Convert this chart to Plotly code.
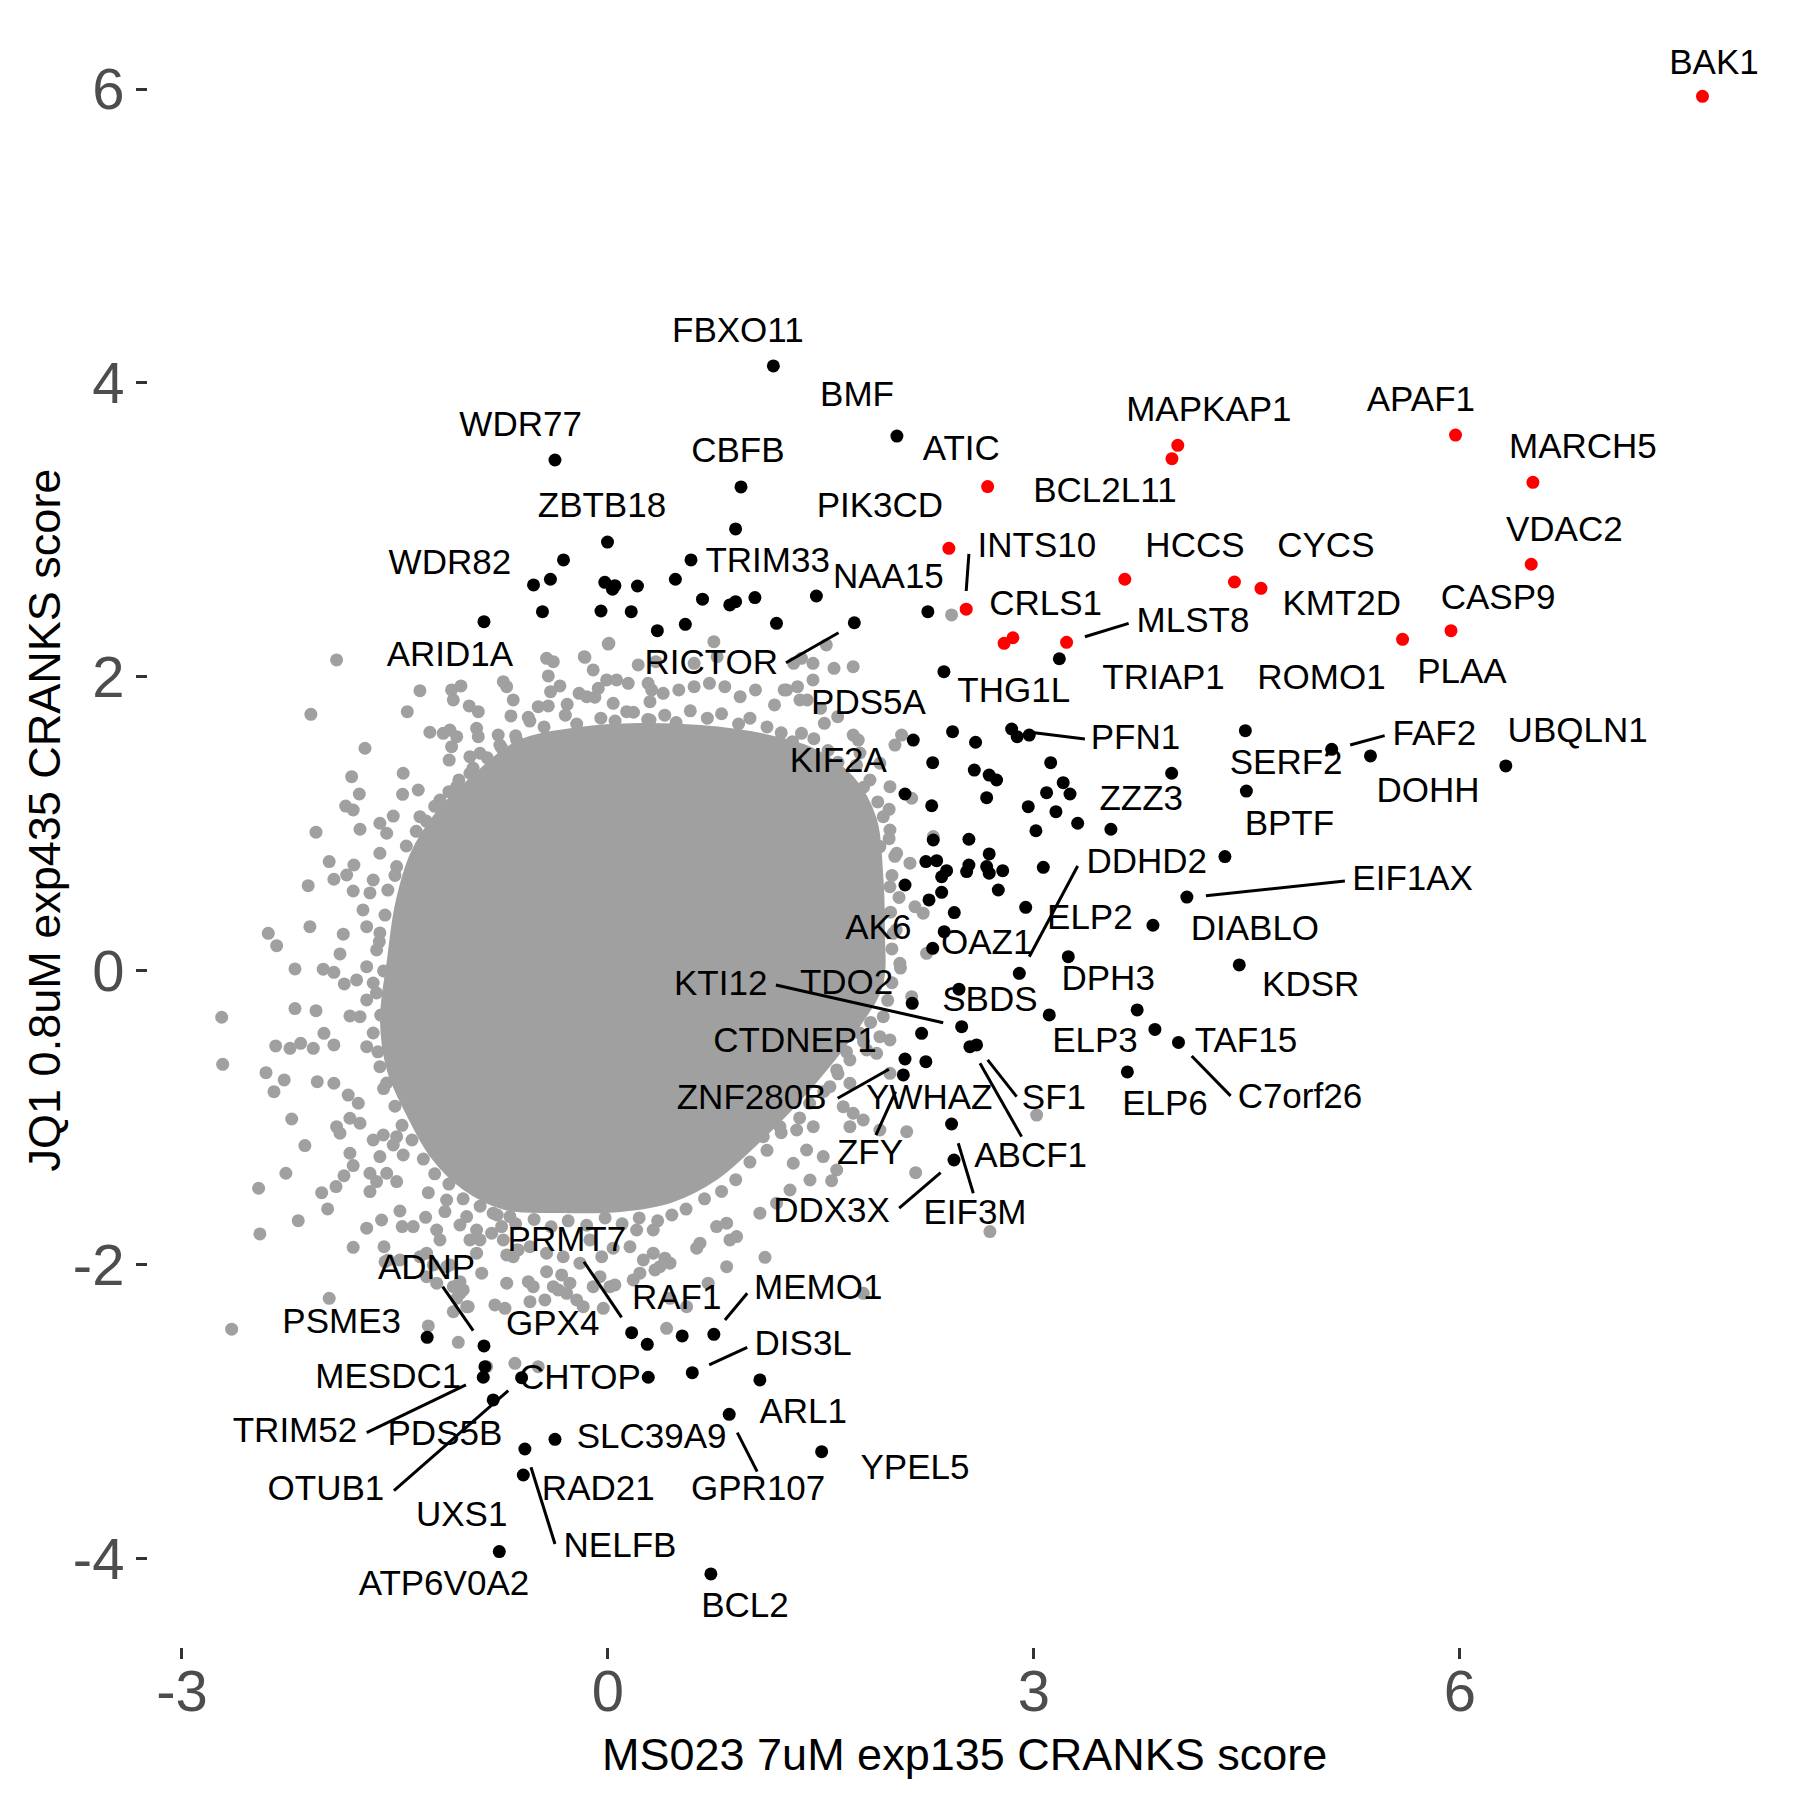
import plotly.graph_objects as go

# ---- data ----
# background genes (gray): dense core outline + scattered points around it
core_x = [-0.620, -0.197, 0.225, 0.648, 1.070, 1.423, 1.704, 1.859, 1.901, 1.915,
          1.901, 1.739, 1.528, 1.282, 1.035, 0.754, 0.437, 0.085, -0.338, -0.725,
          -1.007, -1.218, -1.380, -1.521, -1.570, -1.521, -1.465, -1.359, -1.183, -0.937]
core_y = [1.537, 1.626, 1.653, 1.639, 1.585, 1.490, 1.299, 1.027, 0.687, 0.279,
          -0.095, -0.367, -0.639, -0.912, -1.150, -1.388, -1.544, -1.605, -1.612, -1.592,
          -1.456, -1.252, -0.980, -0.673, -0.333, 0.075, 0.449, 0.789, 1.061, 1.299]

gray_x = [-1.911, -2.092, -1.324, -1.413, -1.711, -1.254, -1.805, -1.751, -1.442, -1.446,
          -1.336, -1.847, -1.794, -2.056, -1.746, -1.606, -1.512, -1.963, -1.789, -1.840,
          -2.111, -1.930, -1.794, -2.099, -2.392, -2.333, -1.864, -1.887, -2.204, -2.005,
          -1.930, -1.857, -2.204, -2.056, -2.720, -2.340, -2.239, -2.164, -2.075, -2.000,
          -1.930, -2.713, -2.408, -2.280, -2.352, -2.047, -1.930, -1.817, -1.035, -1.101,
          -1.089, -0.977, -0.913, -0.925, -0.913, -0.773, -0.737, -0.713, -0.667, -0.683,
          -0.561, -0.432, -0.385, -0.420, -0.404, -0.338, -0.491, -0.420, -0.287, -0.167,
          -0.104, 0.002, -0.150, -0.092, -0.009, 0.061, 0.143, 0.213, 0.308, 0.389,
          0.296, 0.037, 0.132, 0.296, -1.118, -1.065, -1.101, -1.160, -1.113, -0.972,
          -0.901, -0.761, -0.643, -2.227, -2.134, -2.268, -2.460, -2.451, -2.181, -2.016,
          -1.974, -1.915, -1.859, -1.794, -1.817, -1.887, -1.911, -1.817, -1.746, -1.829,
          -1.758, -1.794, -1.963, -2.650, -1.699, -1.594, -1.465, -1.449, -1.371, -1.284,
          -1.206, -1.183, -1.577, -1.570, -1.265, -1.136, -1.148, -1.676, -1.629, -1.676,
          -1.606, -1.653, -1.582, -1.488, -1.512, -1.442, -1.558, -1.488, -1.042, -0.995,
          -0.925, -0.901, -0.972, -1.277, -1.230, -1.136, -1.042, -1.042, -0.995, -1.089,
          -1.054, -1.265, -0.749, -0.690, -0.620, -0.808, -0.819, -0.737, -0.643, -0.549,
          -0.432, -0.326, -0.561, -0.526, -0.713, -0.385, -0.291, -0.220, -0.174, -0.033,
          -0.104, -0.056, 0.014, -0.796, -0.725, -0.549, -0.444, -0.655, -0.491, 0.155,
          0.249, 0.319, 0.225, 0.366, 0.437, 0.202, 0.319, 0.413, -0.667, -0.432,
          -0.315, -0.044, -0.127, -0.197, 0.037, -0.854, -0.350, -0.268, 0.049, 0.178,
          0.331, 0.401, 0.437, 0.554, 0.706, 0.625, 0.836, -0.713, -0.632, -1.547,
          -1.465, -1.324, -1.277, -1.206, -1.089, -1.065, -1.019, -0.984, -1.113, -0.925,
          -0.889, 0.859, 1.106, 1.798, 2.139, 2.104, 2.167, 1.575, 3.019, 2.690,
          1.704, 1.775, 1.915, 1.986, 1.822, 1.704, 1.611, 1.704, 1.563, 1.657,
          1.727, 1.798, 1.915, 1.704, 1.446, 1.399, 1.516, 1.305, 1.423, 1.611,
          1.282, 1.188, 1.070, 0.836, 0.906, 0.648, 0.765, 1.094, 1.211, 1.329,
          1.258, 1.352, 1.763, 2.021, 2.068, 1.775, 1.915, 1.986, 2.139, 1.845,
          1.939, 1.986, 1.915, 2.127, 2.033, 2.220, 2.162, 2.244, 1.986, 1.915,
          2.009, 2.056, 1.939, 1.892, 1.986, 2.291, 1.444, 0.007, 0.746, -0.162,
          1.538, 1.727, 1.592, 1.444, 1.363, 1.308, 0.337, 0.607, 0.769, -0.203,
          -0.068, 1.173, 1.241, 1.335, 1.403, 1.497, 1.727, 1.618, 1.524, 1.363,
          0.283, 0.499, 0.607, 0.715, 0.823, 0.931, 1.039, 2.420, -1.676, -1.725,
          -1.699, -1.606, -1.629, -1.699, -1.653, -1.770, -1.699, -1.746, -1.653, -1.699,
          -1.606, -1.558, -1.558, -1.606, -1.488, -1.653, -0.972, -1.065, -1.183, -1.324,
          # packed ring just outside the dense core
          -0.55, -0.45, -0.30, -0.22, -0.05, 0.05, 0.18, 0.28, 0.40, 0.48,
          0.58, 0.70, 0.80, 0.92, 1.00, 1.12, 1.22, 1.30, 1.45, 1.55,
          1.62, 1.75, 1.80, 1.90, 1.98, 1.98, 2.02, 2.00, 2.05, 1.99,
          2.03, 2.00, 2.06, 2.00, 1.97, 1.85, 1.80, 1.68, 1.62, 1.52,
          1.42, 1.35, 1.22, 1.12, 1.00, 0.90, 0.80, 0.68, 0.55, 0.45,
          0.35, 0.22, 0.10, -0.02, -0.15, -0.28, -0.40, -0.52, -0.65, -0.78,
          -0.90, -1.02, -1.12, -1.22, -1.30, -1.38, -1.45, -1.50, -1.58, -1.62,
          -1.60, -1.63, -1.58, -1.61, -1.57, -1.55, -1.50, -1.42, -1.35, -1.28,
          -1.22, -1.12, -1.05, -0.95, -0.85, -0.75, -0.65]
gray_y = [2.116, 1.746, 1.907, 1.764, 1.515, 1.624, 1.322, 1.204, 1.345, 1.202,
          1.231, 1.122, 1.095, 0.944, 0.964, 1.005, 1.054, 0.744, 0.721, 0.653,
          0.580, 0.624, 0.544, 0.301, 0.256, 0.172, 0.250, 0.116, 0.014, 0.012,
          -0.009, -0.088, -0.256, -0.270, -0.315, -0.510, -0.526, -0.492, -0.526, -0.424,
          -0.503, -0.635, -0.692, -0.741, -0.821, -0.753, -0.764, -0.306, 1.939, 1.912,
          1.844, 1.803, 1.764, 1.651, 1.594, 1.605, 1.968, 1.934, 1.844, 1.735,
          1.726, 2.127, 2.104, 2.007, 1.900, 1.939, 1.798, 1.803, 1.814, 2.138,
          2.048, 2.224, 1.866, 1.862, 1.980, 1.980, 1.957, 2.082, 1.912, 1.889,
          1.832, 1.821, 1.764, 1.707, 1.435, 1.594, 1.526, 1.617, 1.639, 1.458,
          1.481, 1.537, 1.571, -1.007, -1.188, -1.376, -1.478, -1.789, -1.699, -1.508,
          -1.619, -1.467, -1.393, -1.324, -1.240, -1.104, -1.059, -1.002, -1.036, -0.844,
          -0.900, -1.880, -2.227, -2.437, -1.750, -1.694, -1.633, -1.739, -1.739, -1.676,
          -1.762, -1.830, -1.876, -1.978, -1.508, -1.558, -1.637, -1.501, -1.433, -1.376,
          -1.263, -1.150, -1.116, -1.127, -1.184, -1.252, -1.376, -1.433, -1.728, -1.671,
          -1.762, -1.830, -1.830, -1.920, -2.000, -2.012, -2.114, -2.193, -2.284, -2.318,
          -2.526, -2.415, -1.739, -1.671, -1.558, -1.648, -1.784, -1.830, -1.898, -1.876,
          -2.046, -2.068, -2.114, -2.148, -2.124, -2.148, -2.193, -2.238, -2.284, -2.295,
          -2.148, -2.080, -2.148, -2.272, -2.295, -2.250, -2.238, -2.669, -2.692, -1.876,
          -1.966, -1.920, -2.056, -2.012, -1.988, -1.762, -1.762, -2.431, -1.944, -1.920,
          -1.944, -1.944, -1.830, -1.988, -1.886, -2.692, -2.170, -2.124, -2.136, -2.102,
          -2.034, -1.954, -2.227, -2.284, -2.124, -1.886, -2.012, -1.932, -1.898, -1.966,
          -1.966, -1.944, -2.080, -2.124, -2.148, -2.227, -2.170, -2.284, -2.000, -1.920,
          -2.056, -1.830, -1.948, -2.193, -0.175, -1.093, -1.372, -1.427, -0.980, -1.773,
          -0.311, -0.424, -0.447, -0.469, -0.537, -0.605, -0.673, -0.764, -0.787, -0.923,
          -0.968, -1.014, -1.082, -1.059, -1.059, -1.218, -1.263, -1.308, -1.422, -1.354,
          -1.490, -1.580, -1.648, -1.716, -1.807, -1.852, -1.739, -1.127, -1.059, -1.082,
          1.912, 1.844, 1.571, 1.537, 1.605, 1.483, 1.413, 1.254, 1.175, 1.299,
          1.050, 0.959, 0.846, 0.733, 0.801, 0.393, 0.437, 0.120, 0.573, 0.393,
          0.256, 0.052, -0.311, -0.560, -0.696, 0.914, 1.980, 2.229, 2.240, 2.134,
          2.218, 2.070, 2.059, 2.093, 2.127, 2.093, 2.104, 2.093, 2.138, 1.889,
          1.923, 1.810, 1.912, 1.934, 1.844, 1.787, 1.605, 1.730, 1.685, 1.617,
          1.957, 1.912, 1.934, 1.957, 1.934, 1.866, 1.912, 2.422, 0.531, 0.415,
          0.301, 0.259, 0.143, 0.029, -0.082, -0.061, -0.197, -0.311, -0.422, -0.515,
          -0.651, -0.762, 0.937, 0.801, 0.710, 0.619, 1.345, 1.254, 1.163, 1.050,
          # packed ring just outside the dense core
          1.70, 1.66, 1.74, 1.68, 1.72, 1.70, 1.76, 1.71, 1.74, 1.69,
          1.77, 1.72, 1.75, 1.68, 1.72, 1.66, 1.62, 1.56, 1.58, 1.50,
          1.42, 1.40, 1.25, 1.15, 1.10, 0.90, 0.78, 0.65, 0.50, 0.40,
          0.28, 0.15, 0.02, -0.08, -0.20, -0.35, -0.48, -0.55, -0.70, -0.82,
          -0.90, -1.00, -1.10, -1.22, -1.30, -1.42, -1.50, -1.55, -1.62, -1.66,
          -1.70, -1.68, -1.72, -1.68, -1.73, -1.70, -1.74, -1.69, -1.72, -1.66,
          -1.60, -1.55, -1.45, -1.38, -1.28, -1.15, -1.05, -0.92, -0.80, -0.55,
          -0.30, -0.15, 0.00, 0.20, 0.38, 0.55, 0.65, 0.85, 0.95, 1.02,
          1.12, 1.22, 1.30, 1.38, 1.45, 1.52, 1.60]

# hit genes (black)
black_x = [1.165, 2.035, -0.373, 0.937, -0.003, 0.899, 0.585, -0.313, -0.405, -0.524,
           -0.461, -0.022, 0.049, 0.032, 0.208, -0.049, 0.164, 0.348, 0.545, 0.475,
           0.666, 0.858, 0.899, 1.035, 1.187, 1.468, 1.735, -0.873, 2.253, 2.366,
           2.150, 2.427, 2.589, 2.843, 2.882, 2.967, 2.287, 2.580, 2.685, 2.737,
           3.118, 3.970, 2.092, 2.280, 2.667, 3.206, 3.254, 3.089, 2.960, 3.155,
           3.014, 3.308, 3.542, 2.291, 2.542, 2.685, 2.239, 2.315, 2.385, 2.350,
           2.542, 2.526, 2.667, 2.685, 2.780, 3.066, 2.092, 2.350, 2.261, 2.749,
           2.942, 2.439, 2.368, 2.287, 4.345, 4.077, 3.838, 3.242, 2.897, 2.143,
           2.472, 3.108, 3.727, 3.852, 4.018, 3.658, 2.491, 2.209, 2.549, 2.596,
           2.092, 2.239, 2.080, 2.420, 2.437, 4.489, 5.097, 5.370, 6.323, 4.496,
           4.446, 3.179, -0.873, -1.273, -0.866, -0.878, -0.608, 0.284, -0.808, -0.373,
           -0.585, -0.596, -0.765, 0.167, 0.277, 0.523, 0.746, 0.594, 0.854, 1.070,
           1.505, 0.725]
black_y = [4.116, 3.639, 3.476, 3.293, 2.918, 3.007, 2.796, 2.796, 2.665, 2.626,
           2.444, 2.644, 2.621, 2.597, 2.619, 2.449, 2.444, 2.315, 2.358, 2.665,
           2.529, 2.490, 2.512, 2.540, 2.365, 2.551, 2.369, 2.376, 2.444, 2.036,
           1.571, 1.628, 1.556, 1.646, 1.594, 1.605, 1.417, 1.367, 1.333, 1.299,
           1.417, 1.345, 1.204, 1.124, 1.179, 1.281, 1.204, 1.213, 1.118, 1.084,
           0.954, 1.005, 0.964, 0.891, 0.896, 0.796, 0.744, 0.750, 0.682, 0.641,
           0.721, 0.676, 0.710, 0.665, 0.682, 0.705, 0.585, 0.535, 0.483, 0.551,
           0.433, 0.397, 0.267, 0.154, 0.778, 0.503, 0.311, 0.097, -0.016, -0.220,
           -0.124, -0.299, -0.265, -0.398, -0.486, -0.687, -0.379, -0.424, -0.515, -0.503,
           -0.599, -0.617, -0.707, -1.041, -1.286, 1.635, 1.508, 1.463, 1.395, 1.224,
           0.041, 2.124, -2.551, -2.492, -2.692, -2.764, -2.767, -2.764, -2.918, -3.186,
           -3.252, -3.429, -3.950, -2.461, -2.540, -2.483, -2.472, -2.733, -3.016, -2.782,
           -3.270, -4.102]

# hit genes (red)
red_x = [7.708, 5.969, 6.514, 6.502, 5.937, 5.596, 4.013, 3.972, 2.674, 2.401,
         2.523, 3.640, 4.412, 4.599, 2.852, 2.790, 3.230]
red_y = [5.950, 3.646, 3.324, 2.767, 2.315, 2.256, 3.576, 3.485, 3.295, 2.875,
         2.461, 2.665, 2.646, 2.603, 2.267, 2.229, 2.236]

# gene labels (repelled positions)
label_text = ["BAK1", "APAF1", "MARCH5", "VDAC2", "CASP9", "PLAA", "ROMO1", "KMT2D", "CYCS", "HCCS",
              "MAPKAP1", "BCL2L11", "ATIC", "PIK3CD", "INTS10", "CRLS1", "MLST8", "TRIAP1", "FBXO11", "BMF",
              "WDR77", "CBFB", "ZBTB18", "TRIM33", "WDR82", "ARID1A", "NAA15", "RICTOR", "PDS5A", "THG1L",
              "KIF2A", "PFN1", "FAF2", "SERF2", "DOHH", "UBQLN1", "ZZZ3", "BPTF", "DDHD2", "EIF1AX",
              "ELP2", "DIABLO", "AK6", "OAZ1", "DPH3", "KDSR", "KTI12", "TDO2", "SBDS", "CTDNEP1",
              "ELP3", "TAF15", "ZNF280B", "YWHAZ", "SF1", "C7orf26", "ELP6", "ZFY", "ABCF1", "DDX3X",
              "EIF3M", "PRMT7", "ADNP", "MEMO1", "RAF1", "PSME3", "GPX4", "DIS3L", "MESDC1", "CHTOP",
              "ARL1", "TRIM52", "PDS5B", "SLC39A9", "YPEL5", "OTUB1", "RAD21", "GPR107", "UXS1", "NELFB",
              "ATP6V0A2", "BCL2"]
label_x = [7.789, 5.725, 6.866, 6.735, 6.269, 6.014, 5.025, 5.168, 5.056, 4.134,
           4.232, 3.500, 2.488, 1.915, 3.021, 3.082, 4.120, 3.913, 0.915, 1.754,
           -0.615, 0.915, -0.042, 1.125, -1.113, -1.113, 1.975, 0.728, 1.835, 2.858,
           1.622, 3.715, 5.820, 4.776, 5.775, 6.829, 3.756, 4.799, 3.794, 5.667,
           3.394, 4.556, 1.904, 2.667, 3.523, 4.949, 0.794, 1.681, 2.690, 1.317,
           3.430, 4.493, 1.012, 2.263, 3.141, 4.873, 3.923, 1.845, 2.977, 1.575,
           2.585, -0.289, -1.277, 1.481, 0.484, -1.875, -0.389, 1.375, -1.547, -0.197,
           1.375, -2.204, -1.148, 0.308, 2.162, -1.986, -0.068, 1.058, -1.030, 0.085,
           -1.155, 0.965]
label_y = [6.161, 3.866, 3.551, 2.988, 2.524, 2.020, 1.980, 2.478, 2.876, 2.876,
           3.801, 3.250, 3.539, 3.150, 2.876, 2.483, 2.365, 1.980, 4.340, 3.905,
           3.696, 3.524, 3.150, 2.776, 2.762, 2.136, 2.667, 2.082, 1.810, 1.889,
           1.413, 1.571, 1.599, 1.401, 1.209, 1.617, 1.152, 0.982, 0.726, 0.607,
           0.347, 0.272, 0.274, 0.177, -0.073, -0.114, -0.107, -0.095, -0.216, -0.492,
           -0.492, -0.492, -0.878, -0.878, -0.878, -0.873, -0.918, -1.252, -1.274, -1.648,
           -1.660, -1.844, -2.034, -2.170, -2.238, -2.401, -2.415, -2.556, -2.778, -2.782,
           -3.014, -3.145, -3.168, -3.186, -3.395, -3.542, -3.542, -3.542, -3.719, -3.927,
           -4.188, -4.335]

# leader segments (start, end)
seg_x0 = [2.542, 1.254, 3.359, 2.946, 5.227, 4.211, 2.967, 4.111, 1.183, 2.674, 2.620, 1.618,
          1.887, 2.467, 2.051, -1.164, -1.699, -1.507, -0.542, -0.169, 0.824, 0.713, 0.911]
seg_y0 = [2.837, 2.097, 2.274, 1.628, 1.537, 0.512, 0.097, -0.578, -0.095, -0.605, -0.628, -0.866,
          -1.116, -1.172, -1.614, -2.148, -3.141, -3.535, -3.376, -1.978, -2.374, -2.680, -3.141]
seg_x1 = [2.523, 1.624, 3.667, 3.359, 5.470, 5.190, 3.308, 4.385, 2.361, 2.878, 2.913, 1.979,
          2.026, 2.573, 2.343, -0.949, -1.000, -0.702, -0.373, 0.096, 0.981, 0.981, 1.051]
seg_y1 = [2.585, 2.301, 2.365, 1.578, 1.601, 0.612, 0.714, -0.850, -0.352, -0.855, -1.127, -0.669,
          -0.821, -1.512, -1.372, -2.447, -2.816, -2.855, -3.898, -2.356, -2.193, -2.560, -3.406]

x_ticks = [-3, 0, 3, 6]
y_ticks = [-4, -2, 0, 2, 4, 6]

FONT = "Liberation Sans, Arial, sans-serif"
GRAY = "#A0A0A0"

fig = go.Figure()

# dense core of the background cloud
fig.add_trace(go.Scatter(x=core_x + core_x[:1], y=core_y + core_y[:1], mode="lines",
                         fill="toself", fillcolor=GRAY,
                         line=dict(color=GRAY, width=10, shape="spline"),
                         hoverinfo="skip", showlegend=False))
fig.add_trace(go.Scatter(x=gray_x, y=gray_y, mode="markers",
                         marker=dict(color=GRAY, size=13, line=dict(width=0)),
                         showlegend=False))
fig.add_trace(go.Scatter(x=black_x, y=black_y, mode="markers",
                         marker=dict(color="black", size=13, line=dict(width=0)),
                         showlegend=False))
fig.add_trace(go.Scatter(x=red_x, y=red_y, mode="markers",
                         marker=dict(color="#FF0000", size=13, line=dict(width=0)),
                         showlegend=False))

# leader lines
lx, ly = [], []
for a, b, c, d in zip(seg_x0, seg_y0, seg_x1, seg_y1):
    lx += [a, c, None]
    ly += [b, d, None]
fig.add_trace(go.Scatter(x=lx, y=ly, mode="lines", line=dict(color="black", width=3),
                         hoverinfo="skip", showlegend=False))

fig.add_trace(go.Scatter(x=label_x, y=label_y, text=label_text, mode="text",
                         textposition="middle center",
                         textfont=dict(family=FONT, size=35, color="black"),
                         cliponaxis=False, showlegend=False))

axis_common = dict(showgrid=False, zeroline=False, showline=False, ticks="outside",
                   ticklen=11, tickwidth=2.7, tickcolor="#333333",
                   tickfont=dict(family=FONT, size=58, color="#4D4D4D"))

# page body adds 8px, so margins are shifted by that amount
fig.update_layout(
    width=1800, height=1800,
    margin=dict(l=140, r=28, t=15, b=161),
    plot_bgcolor="white", paper_bgcolor="white",
    xaxis=dict(range=[-3.239, 8.254], tickvals=x_ticks, ticklabelstandoff=-18,
               ticktext=[str(v) for v in x_ticks], **axis_common),
    yaxis=dict(range=[-4.599, 6.449], tickvals=y_ticks,
               ticktext=[str(v) for v in y_ticks], **axis_common),
    annotations=[
        dict(text="MS023 7uM exp135 CRANKS score", xref="paper", yref="paper",
             x=0.5, y=-0.066, xanchor="center", yanchor="middle", showarrow=False,
             font=dict(family=FONT, size=45, color="black")),
        dict(text="JQ1 0.8uM exp435 CRANKS score", xref="paper", yref="paper",
             x=-0.0637, y=0.509, xanchor="center", yanchor="middle", showarrow=False,
             textangle=-90, font=dict(family=FONT, size=45, color="black")),
    ],
)

fig.write_html("out.html")
